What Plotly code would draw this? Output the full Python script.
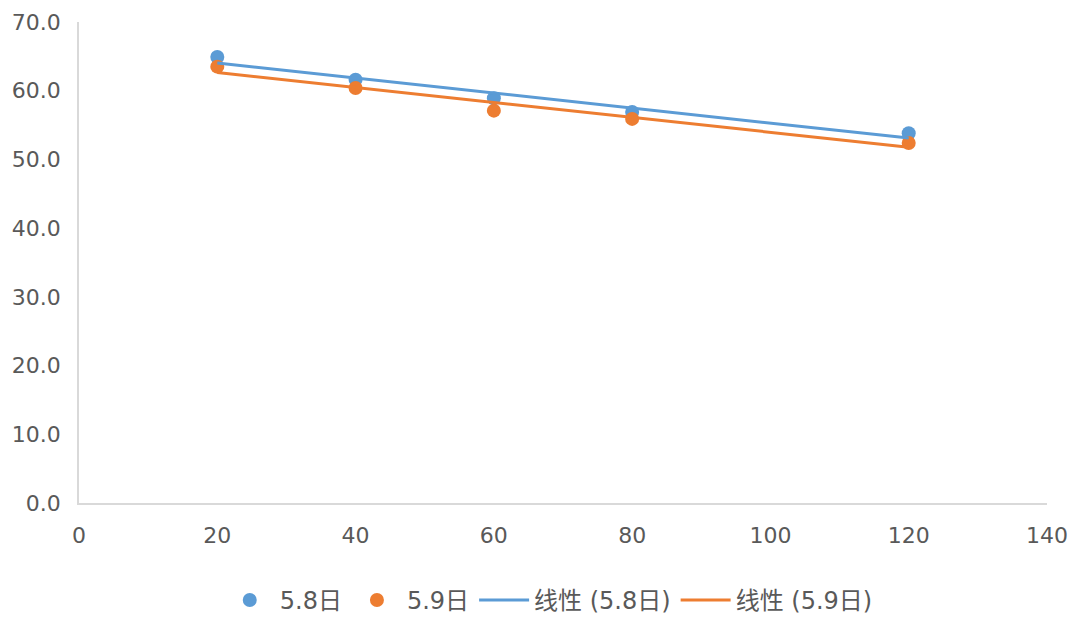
import numpy as np
import plotly.graph_objects as go

x_vals = [20, 40, 60, 80, 120]
y_58 = [64.9, 61.6, 58.9, 56.9, 53.8]
y_59 = [63.5, 60.4, 57.1, 55.9, 52.4]
names = ["5.8日", "5.9日", "线性 (5.8日)", "线性 (5.9日)"]
blue = "#5B9BD5"
orange = "#ED7D31"

def trend(xs, ys):
    k, b = np.polyfit(xs, ys, 1)
    xx = [min(xs), max(xs)]
    return xx, [k * v + b for v in xx]

fig = go.Figure()
fig.add_trace(go.Scatter(x=x_vals, y=y_58, mode="markers", name=names[0],
                         marker=dict(color=blue, size=14)))
fig.add_trace(go.Scatter(x=x_vals, y=y_59, mode="markers", name=names[1],
                         marker=dict(color=orange, size=14)))
tx, ty = trend(x_vals, y_58)
fig.add_trace(go.Scatter(x=tx, y=ty, mode="lines", name=names[2],
                         line=dict(color=blue, width=3)))
tx, ty = trend(x_vals, y_59)
fig.add_trace(go.Scatter(x=tx, y=ty, mode="lines", name=names[3],
                         line=dict(color=orange, width=3)))

font_family = "DejaVu Sans, Noto Sans CJK SC, sans-serif"
fig.update_layout(
    width=1076, height=619,
    margin=dict(l=79, r=29, t=22, b=116, autoexpand=False),
    plot_bgcolor="white", paper_bgcolor="white",
    font=dict(family=font_family, size=22, color="#595959"),
    showlegend=True,
    legend=dict(orientation="h", x=0.51, xref="container", xanchor="center",
                y=0.03, yref="container", yanchor="middle",
                itemwidth=50,
                font=dict(size=24, color="#595959")),
)
fig.update_xaxes(range=[0, 140], dtick=20, showgrid=False, zeroline=False,
                 showline=True, linecolor="#d9d9d9", linewidth=1.5,
                 ticks="", ticklen=0, ticklabelstandoff=12, tickfont=dict(size=22))
fig.update_yaxes(range=[0, 70], dtick=10, tickformat=".1f", showgrid=False, zeroline=False,
                 showline=True, linecolor="#d9d9d9", linewidth=1.5,
                 ticks="", ticklabelstandoff=12, tickfont=dict(size=22))
fig.write_html("out.html")
